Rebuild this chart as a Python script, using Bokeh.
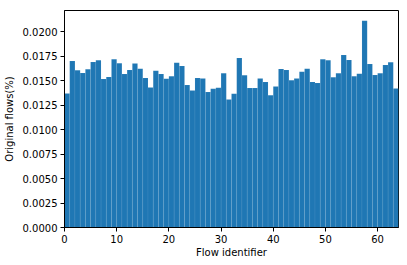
from bokeh.plotting import figure
from bokeh.models import FixedTicker, PrintfTickFormatter, Range1d, ColumnDataSource
from bokeh.embed import file_html
from bokeh.resources import INLINE

flows = list(range(64))
values = [
    0.01370, 0.01701, 0.01605, 0.01578, 0.01616, 0.01690, 0.01708, 0.01516,
    0.01537, 0.01718, 0.01677, 0.01568, 0.01609, 0.01674, 0.01622, 0.01527,
    0.01429, 0.01601, 0.01568, 0.01520, 0.01544, 0.01683, 0.01650, 0.01455,
    0.01400, 0.01527, 0.01523, 0.01383, 0.01417, 0.01427, 0.01575, 0.01308,
    0.01366, 0.01732, 0.01554, 0.01424, 0.01424, 0.01523, 0.01486, 0.01352,
    0.01441, 0.01619, 0.01609, 0.01503, 0.01523, 0.01591, 0.01622, 0.01486,
    0.01475, 0.01718, 0.01708, 0.01534, 0.01575, 0.01762, 0.01711, 0.01544,
    0.01571, 0.02111, 0.01670, 0.01557, 0.01575, 0.01660, 0.01688, 0.01421,
]
x_ticks = [0, 10, 20, 30, 40, 50, 60]
y_ticks = [0.0, 0.0025, 0.005, 0.0075, 0.01, 0.0125, 0.015, 0.0175, 0.02]
x_label = "Flow identifier"
y_label = "Original flows(%)"

src = ColumnDataSource(dict(
    left=flows,
    right=[f + 1 for f in flows],
    top=values,
    bottom=[0] * len(values),
))

p = figure(frame_width=334, frame_height=217, output_backend="svg", toolbar_location=None,
           x_range=Range1d(0, 64), y_range=Range1d(0, max(values) * 1.05),
           min_border_left=54, min_border_right=2, min_border_top=10, min_border_bottom=0)

p.quad(left="left", right="right", top="top", bottom="bottom", source=src,
       fill_color="#1f77b4", line_color="#ffffff", line_alpha=0.12, line_width=0.5)

p.xgrid.visible = False
p.ygrid.visible = False
p.outline_line_color = "black"
p.outline_line_width = 1
p.outline_line_alpha = 1

for ax in (p.xaxis[0], p.yaxis[0]):
    ax.axis_line_color = "black"
    ax.major_tick_line_color = "black"
    ax.major_tick_out = 4
    ax.major_tick_in = 0
    ax.minor_tick_line_color = None
    ax.major_label_text_font = "DejaVu Sans"
    ax.major_label_text_font_size = "10px"
    ax.major_label_text_color = "black"
    ax.major_label_text_line_height = 1.0
    ax.axis_label_text_font = "DejaVu Sans"
    ax.axis_label_text_font_size = "10px"
    ax.axis_label_text_font_style = "normal"
    ax.axis_label_text_color = "black"
    ax.axis_label_text_line_height = 1.0

p.xaxis.ticker = FixedTicker(ticks=x_ticks)
p.yaxis.ticker = FixedTicker(ticks=y_ticks)
p.yaxis.formatter = PrintfTickFormatter(format="%.4f")
p.xaxis.axis_label = x_label
p.yaxis.axis_label = y_label
p.xaxis.major_label_standoff = 3
p.yaxis.major_label_standoff = 3
p.xaxis.axis_label_standoff = 1
p.yaxis.axis_label_standoff = 5

open("out.html", "w").write(file_html(p, INLINE))
